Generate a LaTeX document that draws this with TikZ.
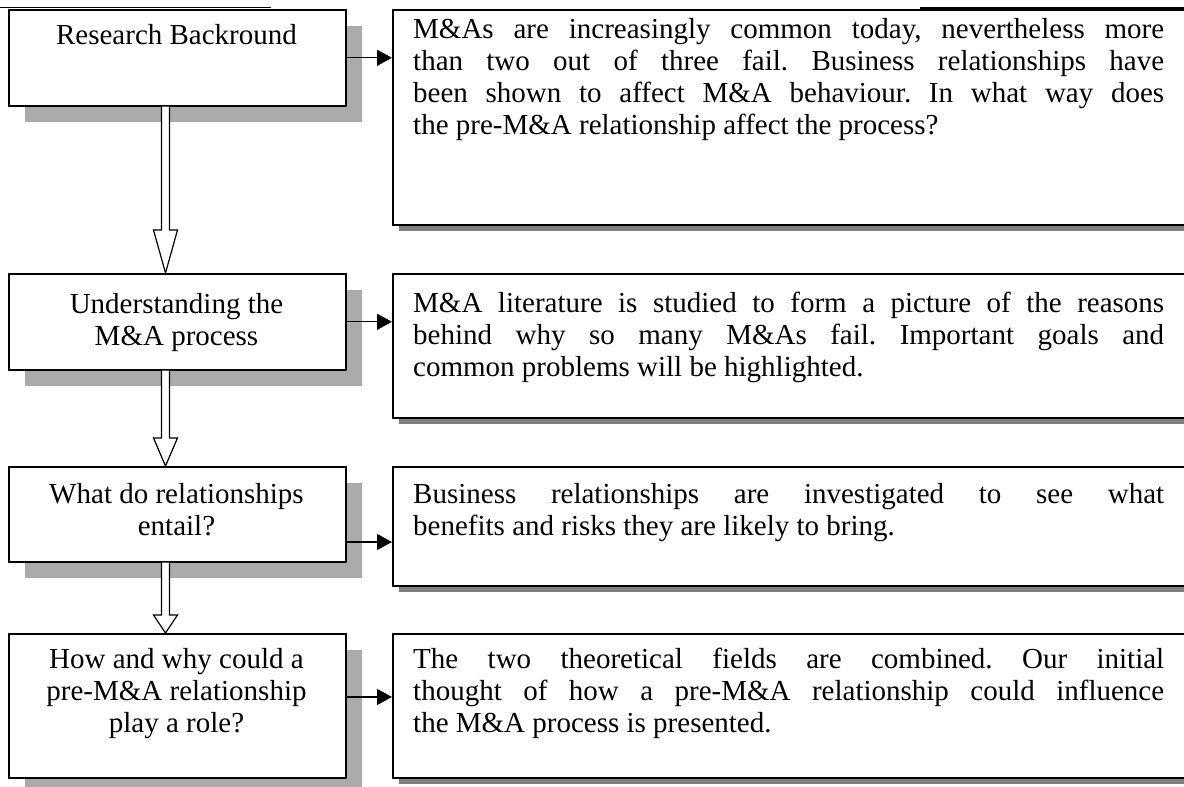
\documentclass[tikz,border=0pt]{standalone}
\usepackage{fontspec}
\setmainfont{Liberation Serif}
\frenchspacing
\usetikzlibrary{shadows,calc,arrows.meta}
\newcommand\blockarr[3]{%
  \draw[barrow] ($(#1.south -| ax)+(-4pt,0pt)$) -- ($(#2.north -| ax)+(-4pt,#3)$)
    -- ($(#2.north -| ax)+(-12pt,#3)$) -- (#2.north -| ax)
    -- ($(#2.north -| ax)+(12pt,#3)$) -- ($(#2.north -| ax)+(4pt,#3)$)
    -- ($(#1.south -| ax)+(4pt,0pt)$);}
\begin{document}
\begin{tikzpicture}[x=1pt,y=-1pt,
  lbox/.style={draw, line width=1.6pt, fill=white, anchor=north west, inner sep=0pt,
    minimum width=337pt,
    general shadow={fill=black!33, shadow xshift=16pt, shadow yshift=-16pt}},
  rbox/.style={draw, line width=1.6pt, fill=white, anchor=north west, inner sep=0pt,
    minimum width=820pt,
    general shadow={fill=black!50, shadow xshift=6pt, shadow yshift=-6pt}},
  ltxt/.style={anchor=base, inner sep=0pt, font=\fontsize{29}{32.3}\selectfont},
  rtxt/.style={anchor=base west, inner sep=0pt, font=\fontsize{29}{32.3}\selectfont},
  link/.style={line width=1.3pt, -{Triangle[length=15pt,width=16pt]}},
  barrow/.style={draw, line width=1.2pt, fill=white, line join=miter}]
\useasboundingbox (0,0) rectangle (1184,787);
\fill[white] (0,0) rectangle (1184,787);
\draw[line width=0.9pt] (0,7) -- (271,7);
\draw[line width=1.3pt] (920,8) -- (1184,8);
% left boxes
\node[lbox, minimum height=96pt] (lb1) at (8,9) {};
\node[lbox, minimum height=96pt] (lb2) at (8,273) {};
\node[lbox, minimum height=95pt] (lb3) at (8,466) {};
\node[lbox, minimum height=144pt] (lb4) at (8,633) {};
% right boxes
\node[rbox, minimum height=215pt] (rb1) at (392,9) {};
\node[rbox, minimum height=144pt] (rb2) at (392,273) {};
\node[rbox, minimum height=119pt] (rb3) at (392,466) {};
\node[rbox, minimum height=144pt] (rb4) at (392,633) {};
% left texts
\node[ltxt] (lt1) at (176.5,45) {Research Backround};
\node[ltxt] (lt2) at (176.5,313) {\parbox[t]{330pt}{\centering Understanding the\\M\&A process}};
\node[ltxt] (lt3) at (176.5,503) {\parbox[t]{330pt}{\centering What do relationships\\entail?}};
\node[ltxt] (lt4) at (176.5,668) {\parbox[t]{330pt}{\centering How and why could a\\pre-M\&A relationship\\play a role?}};
% right texts
\node[rtxt] (rt1) at (413,38) {\parbox[t]{751pt}{M\&As are increasingly common today, nevertheless more\linebreak
 than two out of three fail. Business relationships have\linebreak
 been shown to affect M\&A behaviour. In what way does\linebreak
 the pre-M\&A relationship affect the process?}};
\node[rtxt] (rt2) at (413,312) {\parbox[t]{751pt}{M\&A literature is studied to form a picture of the reasons\linebreak
 behind why so many M\&As fail. Important goals and\linebreak
 common problems will be highlighted.}};
\node[rtxt] (rt3) at (413,503) {\parbox[t]{751pt}{Business relationships are investigated to see what\linebreak
 benefits and risks they are likely to bring.}};
\node[rtxt] (rt4) at (413,668) {\parbox[t]{751pt}{The two theoretical fields are combined. Our initial\linebreak
 thought of how a pre-M\&A relationship could influence\linebreak
 the M\&A process is presented.}};
% connectors
\coordinate (ax) at (165.5,0);
\coordinate (y3) at (0,542);
\coordinate (y4) at (0,697);
\draw[link] (lb1.east) -- (rb1.west |- lb1.east);
\draw[link] (lb2.east) -- (rb2.west |- lb2.east);
\draw[link] (lb3.east |- y3) -- (rb3.west |- y3);
\draw[link] (lb4.east |- y4) -- (rb4.west |- y4);
\blockarr{lb1}{lb2}{43pt}
\blockarr{lb2}{lb3}{28pt}
\blockarr{lb3}{lb4}{18pt}
\end{tikzpicture}
\end{document}
